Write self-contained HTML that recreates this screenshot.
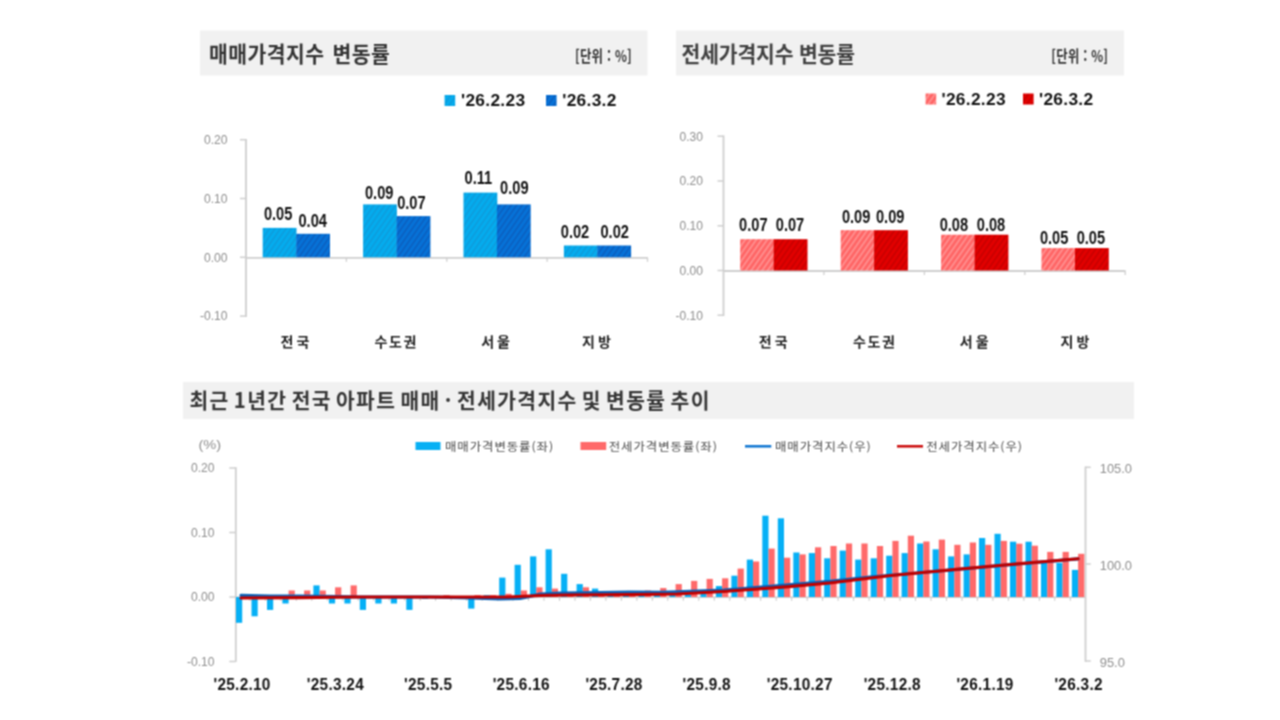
<!DOCTYPE html>
<html lang="ko"><head><meta charset="utf-8"><title>주간 아파트 가격 동향</title>
<style>html,body{margin:0;padding:0;background:#fff;}body{width:1280px;height:720px;overflow:hidden;}svg{display:block;}</style>
</head><body>
<svg width="1280" height="720" viewBox="0 0 1280 720">
<defs>
<pattern id="hLB" width="4.5" height="4.5" patternUnits="userSpaceOnUse" patternTransform="rotate(-55)"><rect width="4.5" height="4.5" fill="#04acee"/><rect width="4.5" height="1.7" fill="#0c9ddc"/></pattern>
<pattern id="hDB" width="4.5" height="4.5" patternUnits="userSpaceOnUse" patternTransform="rotate(-55)"><rect width="4.5" height="4.5" fill="#0672d8"/><rect width="4.5" height="1.7" fill="#0a60c0"/></pattern>
<pattern id="hLR" width="4.5" height="4.5" patternUnits="userSpaceOnUse" patternTransform="rotate(-55)"><rect width="4.5" height="4.5" fill="#ff6464"/><rect width="4.5" height="1.9" fill="#ff8e8e"/></pattern>
<pattern id="hDR" width="4.5" height="4.5" patternUnits="userSpaceOnUse" patternTransform="rotate(-55)"><rect width="4.5" height="4.5" fill="#e20000"/><rect width="4.5" height="1.7" fill="#c80000"/></pattern>
<filter id="soft" x="0" y="0" width="1280" height="720" filterUnits="userSpaceOnUse" color-interpolation-filters="sRGB"><feConvolveMatrix order="3" kernelMatrix="1 2 1 2 4 2 1 2 1" divisor="16" edgeMode="duplicate" preserveAlpha="false"/></filter>
</defs>
<rect width="1280" height="720" fill="#ffffff"/>
<g filter="url(#soft)">
<rect x="200" y="30.5" width="447.5" height="45" fill="#f1f1f1"/>
<rect x="676" y="30.5" width="448" height="45" fill="#f1f1f1"/>
<rect x="183" y="382" width="951" height="37" fill="#f1f1f1"/>
<text transform="translate(209.00 61.60) scale(0.95 1)" font-size="21.5" fill="#333" font-weight="bold" text-anchor="start" font-family='"Noto Sans CJK KR", "Liberation Sans", sans-serif' word-spacing="2" letter-spacing="0.5">매매가격지수 변동률</text>
<text transform="translate(681.50 61.60) scale(0.95 1)" font-size="21.5" fill="#404040" font-weight="bold" text-anchor="start" font-family='"Noto Sans CJK KR", "Liberation Sans", sans-serif' word-spacing="0" letter-spacing="-0.15">전세가격지수 변동률</text>
<text transform="translate(189.50 407.80) scale(0.97 1)" font-size="21" fill="#363636" font-weight="bold" text-anchor="start" font-family='"Noto Sans CJK KR", "Liberation Sans", sans-serif' word-spacing="-3.0" letter-spacing="1.42">최근 1년간 전국 아파트 매매 · 전세가격지수 및 변동률 추이</text>
<text transform="translate(632.00 62.20) scale(0.8 1)" font-size="15.5" fill="#333" font-weight="bold" text-anchor="end" font-family='"Noto Sans CJK KR", "Liberation Sans", sans-serif' letter-spacing="0.3">[단위 : %]</text>
<text transform="translate(1108.30 62.20) scale(0.8 1)" font-size="15.5" fill="#333" font-weight="bold" text-anchor="end" font-family='"Noto Sans CJK KR", "Liberation Sans", sans-serif' letter-spacing="0.3">[단위 : %]</text>
<line x1="246" y1="138.9" x2="246" y2="316.9" stroke="#cfcfcf" stroke-width="1.8"/>
<line x1="240" y1="316.1" x2="246" y2="316.1" stroke="#cfcfcf" stroke-width="1.5"/>
<text transform="translate(227.50 320.40) scale(0.93 1)" font-size="13" fill="#8e8e8e" font-weight="normal" text-anchor="end" font-family='"Liberation Sans", "Noto Sans CJK KR", sans-serif'>-0.10</text>
<line x1="240" y1="257.3" x2="246" y2="257.3" stroke="#cfcfcf" stroke-width="1.5"/>
<text transform="translate(227.50 261.60) scale(0.93 1)" font-size="13" fill="#8e8e8e" font-weight="normal" text-anchor="end" font-family='"Liberation Sans", "Noto Sans CJK KR", sans-serif'>0.00</text>
<line x1="240" y1="198.5" x2="246" y2="198.5" stroke="#cfcfcf" stroke-width="1.5"/>
<text transform="translate(227.50 202.80) scale(0.93 1)" font-size="13" fill="#8e8e8e" font-weight="normal" text-anchor="end" font-family='"Liberation Sans", "Noto Sans CJK KR", sans-serif'>0.10</text>
<line x1="240" y1="139.7" x2="246" y2="139.7" stroke="#cfcfcf" stroke-width="1.5"/>
<text transform="translate(227.50 144.00) scale(0.93 1)" font-size="13" fill="#8e8e8e" font-weight="normal" text-anchor="end" font-family='"Liberation Sans", "Noto Sans CJK KR", sans-serif'>0.20</text>
<line x1="246" y1="257.8" x2="647.5" y2="257.8" stroke="#cfcfcf" stroke-width="1.8"/>
<line x1="346.4" y1="257.3" x2="346.4" y2="261.8" stroke="#cfcfcf" stroke-width="1.3"/>
<line x1="446.8" y1="257.3" x2="446.8" y2="261.8" stroke="#cfcfcf" stroke-width="1.3"/>
<line x1="547.1" y1="257.3" x2="547.1" y2="261.8" stroke="#cfcfcf" stroke-width="1.3"/>
<line x1="647.5" y1="257.3" x2="647.5" y2="261.8" stroke="#cfcfcf" stroke-width="1.3"/>
<rect x="262.7" y="227.9" width="33.8" height="29.4" fill="url(#hLB)"/>
<text transform="translate(278.10 220.20) scale(0.77 1)" font-size="19" fill="#111" font-weight="bold" text-anchor="middle" font-family='"Liberation Sans", "Noto Sans CJK KR", sans-serif'>0.05</text>
<rect x="296.2" y="233.8" width="33.8" height="23.5" fill="url(#hDB)"/>
<text transform="translate(312.70 226.70) scale(0.77 1)" font-size="19" fill="#111" font-weight="bold" text-anchor="middle" font-family='"Liberation Sans", "Noto Sans CJK KR", sans-serif'>0.04</text>
<text x="296.40" y="347.00" font-size="14" fill="#222" font-weight="bold" text-anchor="middle" font-family='"Noto Sans CJK KR", "Liberation Sans", sans-serif' letter-spacing="3">전국</text>
<rect x="363.1" y="204.4" width="33.8" height="52.9" fill="url(#hLB)"/>
<text transform="translate(379.20 198.95) scale(0.77 1)" font-size="19" fill="#111" font-weight="bold" text-anchor="middle" font-family='"Liberation Sans", "Noto Sans CJK KR", sans-serif'>0.09</text>
<rect x="396.6" y="216.1" width="33.8" height="41.2" fill="url(#hDB)"/>
<text transform="translate(411.40 208.90) scale(0.77 1)" font-size="19" fill="#111" font-weight="bold" text-anchor="middle" font-family='"Liberation Sans", "Noto Sans CJK KR", sans-serif'>0.07</text>
<text x="396.30" y="347.00" font-size="14" fill="#222" font-weight="bold" text-anchor="middle" font-family='"Noto Sans CJK KR", "Liberation Sans", sans-serif' letter-spacing="1.6">수도권</text>
<rect x="463.5" y="192.6" width="33.8" height="64.7" fill="url(#hLB)"/>
<text transform="translate(478.40 183.60) scale(0.77 1)" font-size="19" fill="#111" font-weight="bold" text-anchor="middle" font-family='"Liberation Sans", "Noto Sans CJK KR", sans-serif'>0.11</text>
<rect x="496.9" y="204.4" width="33.8" height="52.9" fill="url(#hDB)"/>
<text transform="translate(514.30 194.45) scale(0.77 1)" font-size="19" fill="#111" font-weight="bold" text-anchor="middle" font-family='"Liberation Sans", "Noto Sans CJK KR", sans-serif'>0.09</text>
<text x="497.10" y="347.00" font-size="14" fill="#222" font-weight="bold" text-anchor="middle" font-family='"Noto Sans CJK KR", "Liberation Sans", sans-serif' letter-spacing="3">서울</text>
<rect x="563.9" y="245.5" width="33.8" height="11.8" fill="url(#hLB)"/>
<text transform="translate(575.00 237.60) scale(0.77 1)" font-size="19" fill="#111" font-weight="bold" text-anchor="middle" font-family='"Liberation Sans", "Noto Sans CJK KR", sans-serif'>0.02</text>
<rect x="597.3" y="245.5" width="33.8" height="11.8" fill="url(#hDB)"/>
<text transform="translate(614.70 237.60) scale(0.77 1)" font-size="19" fill="#111" font-weight="bold" text-anchor="middle" font-family='"Liberation Sans", "Noto Sans CJK KR", sans-serif'>0.02</text>
<text x="597.90" y="347.00" font-size="14" fill="#222" font-weight="bold" text-anchor="middle" font-family='"Noto Sans CJK KR", "Liberation Sans", sans-serif' letter-spacing="3">지방</text>
<line x1="723.5" y1="135.4" x2="723.5" y2="316.1" stroke="#cfcfcf" stroke-width="1.8"/>
<line x1="717.5" y1="315.2" x2="723.5" y2="315.2" stroke="#cfcfcf" stroke-width="1.5"/>
<text transform="translate(703.00 319.55) scale(0.93 1)" font-size="13" fill="#8e8e8e" font-weight="normal" text-anchor="end" font-family='"Liberation Sans", "Noto Sans CJK KR", sans-serif'>-0.10</text>
<line x1="717.5" y1="270.5" x2="723.5" y2="270.5" stroke="#cfcfcf" stroke-width="1.5"/>
<text transform="translate(703.00 274.80) scale(0.93 1)" font-size="13" fill="#8e8e8e" font-weight="normal" text-anchor="end" font-family='"Liberation Sans", "Noto Sans CJK KR", sans-serif'>0.00</text>
<line x1="717.5" y1="225.8" x2="723.5" y2="225.8" stroke="#cfcfcf" stroke-width="1.5"/>
<text transform="translate(703.00 230.05) scale(0.93 1)" font-size="13" fill="#8e8e8e" font-weight="normal" text-anchor="end" font-family='"Liberation Sans", "Noto Sans CJK KR", sans-serif'>0.10</text>
<line x1="717.5" y1="181.0" x2="723.5" y2="181.0" stroke="#cfcfcf" stroke-width="1.5"/>
<text transform="translate(703.00 185.30) scale(0.93 1)" font-size="13" fill="#8e8e8e" font-weight="normal" text-anchor="end" font-family='"Liberation Sans", "Noto Sans CJK KR", sans-serif'>0.20</text>
<line x1="717.5" y1="136.2" x2="723.5" y2="136.2" stroke="#cfcfcf" stroke-width="1.5"/>
<text transform="translate(703.00 140.55) scale(0.93 1)" font-size="13" fill="#8e8e8e" font-weight="normal" text-anchor="end" font-family='"Liberation Sans", "Noto Sans CJK KR", sans-serif'>0.30</text>
<line x1="723.5" y1="271.0" x2="1125.2" y2="271.0" stroke="#cfcfcf" stroke-width="1.8"/>
<line x1="823.9" y1="270.5" x2="823.9" y2="275.0" stroke="#cfcfcf" stroke-width="1.3"/>
<line x1="924.4" y1="270.5" x2="924.4" y2="275.0" stroke="#cfcfcf" stroke-width="1.3"/>
<line x1="1024.8" y1="270.5" x2="1024.8" y2="275.0" stroke="#cfcfcf" stroke-width="1.3"/>
<line x1="1125.2" y1="270.5" x2="1125.2" y2="275.0" stroke="#cfcfcf" stroke-width="1.3"/>
<rect x="740.2" y="239.2" width="33.8" height="31.3" fill="url(#hLR)"/>
<text transform="translate(753.30 230.90) scale(0.77 1)" font-size="19" fill="#111" font-weight="bold" text-anchor="middle" font-family='"Liberation Sans", "Noto Sans CJK KR", sans-serif'>0.07</text>
<rect x="773.7" y="239.2" width="33.8" height="31.3" fill="url(#hDR)"/>
<text transform="translate(790.00 230.90) scale(0.77 1)" font-size="19" fill="#111" font-weight="bold" text-anchor="middle" font-family='"Liberation Sans", "Noto Sans CJK KR", sans-serif'>0.07</text>
<text x="774.70" y="347.00" font-size="14" fill="#222" font-weight="bold" text-anchor="middle" font-family='"Noto Sans CJK KR", "Liberation Sans", sans-serif' letter-spacing="3">전국</text>
<rect x="840.7" y="230.2" width="33.8" height="40.3" fill="url(#hLR)"/>
<text transform="translate(856.10 223.00) scale(0.77 1)" font-size="19" fill="#111" font-weight="bold" text-anchor="middle" font-family='"Liberation Sans", "Noto Sans CJK KR", sans-serif'>0.09</text>
<rect x="874.1" y="230.2" width="33.8" height="40.3" fill="url(#hDR)"/>
<text transform="translate(890.20 223.00) scale(0.77 1)" font-size="19" fill="#111" font-weight="bold" text-anchor="middle" font-family='"Liberation Sans", "Noto Sans CJK KR", sans-serif'>0.09</text>
<text x="874.80" y="347.00" font-size="14" fill="#222" font-weight="bold" text-anchor="middle" font-family='"Noto Sans CJK KR", "Liberation Sans", sans-serif' letter-spacing="1.6">수도권</text>
<rect x="941.1" y="234.7" width="33.8" height="35.8" fill="url(#hLR)"/>
<text transform="translate(953.90 230.60) scale(0.77 1)" font-size="19" fill="#111" font-weight="bold" text-anchor="middle" font-family='"Liberation Sans", "Noto Sans CJK KR", sans-serif'>0.08</text>
<rect x="974.6" y="234.7" width="33.8" height="35.8" fill="url(#hDR)"/>
<text transform="translate(991.00 230.60) scale(0.77 1)" font-size="19" fill="#111" font-weight="bold" text-anchor="middle" font-family='"Liberation Sans", "Noto Sans CJK KR", sans-serif'>0.08</text>
<text x="975.70" y="347.00" font-size="14" fill="#222" font-weight="bold" text-anchor="middle" font-family='"Noto Sans CJK KR", "Liberation Sans", sans-serif' letter-spacing="3">서울</text>
<rect x="1041.5" y="248.1" width="33.8" height="22.4" fill="url(#hLR)"/>
<text transform="translate(1054.10 243.80) scale(0.77 1)" font-size="19" fill="#111" font-weight="bold" text-anchor="middle" font-family='"Liberation Sans", "Noto Sans CJK KR", sans-serif'>0.05</text>
<rect x="1075.0" y="248.1" width="33.8" height="22.4" fill="url(#hDR)"/>
<text transform="translate(1090.85 243.80) scale(0.77 1)" font-size="19" fill="#111" font-weight="bold" text-anchor="middle" font-family='"Liberation Sans", "Noto Sans CJK KR", sans-serif'>0.05</text>
<text x="1076.50" y="347.00" font-size="14" fill="#222" font-weight="bold" text-anchor="middle" font-family='"Noto Sans CJK KR", "Liberation Sans", sans-serif' letter-spacing="3">지방</text>
<rect x="444.6" y="95" width="10.6" height="11" fill="url(#hLB)"/>
<text transform="translate(461.00 105.50) scale(1.02 1)" font-size="17" fill="#111" font-weight="bold" text-anchor="start" font-family='"Liberation Sans", "Noto Sans CJK KR", sans-serif' letter-spacing="0.3">'26.2.23</text>
<rect x="546" y="95" width="10.6" height="11" fill="url(#hDB)"/>
<text transform="translate(562.20 105.50) scale(1.02 1)" font-size="17" fill="#111" font-weight="bold" text-anchor="start" font-family='"Liberation Sans", "Noto Sans CJK KR", sans-serif' letter-spacing="0.3">'26.3.2</text>
<rect x="925.6" y="93.5" width="10.6" height="11" fill="url(#hLR)"/>
<text transform="translate(941.50 104.50) scale(1.02 1)" font-size="17" fill="#111" font-weight="bold" text-anchor="start" font-family='"Liberation Sans", "Noto Sans CJK KR", sans-serif' letter-spacing="0.3">'26.2.23</text>
<rect x="1023" y="93.5" width="10.6" height="11" fill="url(#hDR)"/>
<text transform="translate(1039.00 104.50) scale(1.02 1)" font-size="17" fill="#111" font-weight="bold" text-anchor="start" font-family='"Liberation Sans", "Noto Sans CJK KR", sans-serif' letter-spacing="0.3">'26.3.2</text>
<line x1="235.8" y1="467.2" x2="235.8" y2="661.8" stroke="#cfcfcf" stroke-width="1.8"/>
<line x1="1085.5" y1="466.6" x2="1085.5" y2="661.8" stroke="#cfcfcf" stroke-width="1.8"/>
<line x1="229.3" y1="661.5" x2="235.8" y2="661.5" stroke="#cfcfcf" stroke-width="1.5"/>
<text transform="translate(214.50 665.80) scale(0.93 1)" font-size="13" fill="#8e8e8e" font-weight="normal" text-anchor="end" font-family='"Liberation Sans", "Noto Sans CJK KR", sans-serif'>-0.10</text>
<line x1="229.3" y1="597.0" x2="235.8" y2="597.0" stroke="#cfcfcf" stroke-width="1.5"/>
<text transform="translate(214.50 601.30) scale(0.93 1)" font-size="13" fill="#8e8e8e" font-weight="normal" text-anchor="end" font-family='"Liberation Sans", "Noto Sans CJK KR", sans-serif'>0.00</text>
<line x1="229.3" y1="532.5" x2="235.8" y2="532.5" stroke="#cfcfcf" stroke-width="1.5"/>
<text transform="translate(214.50 536.80) scale(0.93 1)" font-size="13" fill="#8e8e8e" font-weight="normal" text-anchor="end" font-family='"Liberation Sans", "Noto Sans CJK KR", sans-serif'>0.10</text>
<line x1="229.3" y1="468.0" x2="235.8" y2="468.0" stroke="#cfcfcf" stroke-width="1.5"/>
<text transform="translate(214.50 472.30) scale(0.93 1)" font-size="13" fill="#8e8e8e" font-weight="normal" text-anchor="end" font-family='"Liberation Sans", "Noto Sans CJK KR", sans-serif'>0.20</text>
<line x1="1085.0" y1="661.0" x2="1090.8" y2="661.0" stroke="#cfcfcf" stroke-width="1.5"/>
<text transform="translate(1099.80 666.50) scale(1.03 1)" font-size="12.5" fill="#8e8e8e" font-weight="normal" text-anchor="start" font-family='"Liberation Sans", "Noto Sans CJK KR", sans-serif'>95.0</text>
<line x1="1085.0" y1="564.0" x2="1090.8" y2="564.0" stroke="#cfcfcf" stroke-width="1.5"/>
<text transform="translate(1099.80 570.00) scale(1.03 1)" font-size="12.5" fill="#8e8e8e" font-weight="normal" text-anchor="start" font-family='"Liberation Sans", "Noto Sans CJK KR", sans-serif'>100.0</text>
<line x1="1085.0" y1="467.3" x2="1090.8" y2="467.3" stroke="#cfcfcf" stroke-width="1.5"/>
<text transform="translate(1099.80 472.50) scale(1.03 1)" font-size="12.5" fill="#8e8e8e" font-weight="normal" text-anchor="start" font-family='"Liberation Sans", "Noto Sans CJK KR", sans-serif'>105.0</text>
<text transform="translate(198.50 449.00) scale(1.17 1)" font-size="12.5" fill="#8e8e8e" font-weight="normal" text-anchor="start" font-family='"Liberation Sans", "Noto Sans CJK KR", sans-serif'>(%)</text>
<line x1="235.8" y1="597.3" x2="1085.0" y2="597.3" stroke="#cfcfcf" stroke-width="1.4"/>
<line x1="249.9" y1="597.0" x2="249.9" y2="600.8" stroke="#c6c6c6" stroke-width="1"/>
<line x1="265.4" y1="597.0" x2="265.4" y2="600.8" stroke="#c6c6c6" stroke-width="1"/>
<line x1="280.8" y1="597.0" x2="280.8" y2="600.8" stroke="#c6c6c6" stroke-width="1"/>
<line x1="296.3" y1="597.0" x2="296.3" y2="600.8" stroke="#c6c6c6" stroke-width="1"/>
<line x1="311.8" y1="597.0" x2="311.8" y2="600.8" stroke="#c6c6c6" stroke-width="1"/>
<line x1="327.3" y1="597.0" x2="327.3" y2="600.8" stroke="#c6c6c6" stroke-width="1"/>
<line x1="342.8" y1="597.0" x2="342.8" y2="600.8" stroke="#c6c6c6" stroke-width="1"/>
<line x1="358.2" y1="597.0" x2="358.2" y2="600.8" stroke="#c6c6c6" stroke-width="1"/>
<line x1="373.7" y1="597.0" x2="373.7" y2="600.8" stroke="#c6c6c6" stroke-width="1"/>
<line x1="389.2" y1="597.0" x2="389.2" y2="600.8" stroke="#c6c6c6" stroke-width="1"/>
<line x1="404.7" y1="597.0" x2="404.7" y2="600.8" stroke="#c6c6c6" stroke-width="1"/>
<line x1="420.2" y1="597.0" x2="420.2" y2="600.8" stroke="#c6c6c6" stroke-width="1"/>
<line x1="435.6" y1="597.0" x2="435.6" y2="600.8" stroke="#c6c6c6" stroke-width="1"/>
<line x1="451.1" y1="597.0" x2="451.1" y2="600.8" stroke="#c6c6c6" stroke-width="1"/>
<line x1="466.6" y1="597.0" x2="466.6" y2="600.8" stroke="#c6c6c6" stroke-width="1"/>
<line x1="482.1" y1="597.0" x2="482.1" y2="600.8" stroke="#c6c6c6" stroke-width="1"/>
<line x1="497.6" y1="597.0" x2="497.6" y2="600.8" stroke="#c6c6c6" stroke-width="1"/>
<line x1="513.0" y1="597.0" x2="513.0" y2="600.8" stroke="#c6c6c6" stroke-width="1"/>
<line x1="528.5" y1="597.0" x2="528.5" y2="600.8" stroke="#c6c6c6" stroke-width="1"/>
<line x1="544.0" y1="597.0" x2="544.0" y2="600.8" stroke="#c6c6c6" stroke-width="1"/>
<line x1="559.5" y1="597.0" x2="559.5" y2="600.8" stroke="#c6c6c6" stroke-width="1"/>
<line x1="575.0" y1="597.0" x2="575.0" y2="600.8" stroke="#c6c6c6" stroke-width="1"/>
<line x1="590.4" y1="597.0" x2="590.4" y2="600.8" stroke="#c6c6c6" stroke-width="1"/>
<line x1="605.9" y1="597.0" x2="605.9" y2="600.8" stroke="#c6c6c6" stroke-width="1"/>
<line x1="621.4" y1="597.0" x2="621.4" y2="600.8" stroke="#c6c6c6" stroke-width="1"/>
<line x1="636.9" y1="597.0" x2="636.9" y2="600.8" stroke="#c6c6c6" stroke-width="1"/>
<line x1="652.4" y1="597.0" x2="652.4" y2="600.8" stroke="#c6c6c6" stroke-width="1"/>
<line x1="667.8" y1="597.0" x2="667.8" y2="600.8" stroke="#c6c6c6" stroke-width="1"/>
<line x1="683.3" y1="597.0" x2="683.3" y2="600.8" stroke="#c6c6c6" stroke-width="1"/>
<line x1="698.8" y1="597.0" x2="698.8" y2="600.8" stroke="#c6c6c6" stroke-width="1"/>
<line x1="714.3" y1="597.0" x2="714.3" y2="600.8" stroke="#c6c6c6" stroke-width="1"/>
<line x1="729.8" y1="597.0" x2="729.8" y2="600.8" stroke="#c6c6c6" stroke-width="1"/>
<line x1="745.2" y1="597.0" x2="745.2" y2="600.8" stroke="#c6c6c6" stroke-width="1"/>
<line x1="760.7" y1="597.0" x2="760.7" y2="600.8" stroke="#c6c6c6" stroke-width="1"/>
<line x1="776.2" y1="597.0" x2="776.2" y2="600.8" stroke="#c6c6c6" stroke-width="1"/>
<line x1="791.7" y1="597.0" x2="791.7" y2="600.8" stroke="#c6c6c6" stroke-width="1"/>
<line x1="807.2" y1="597.0" x2="807.2" y2="600.8" stroke="#c6c6c6" stroke-width="1"/>
<line x1="822.6" y1="597.0" x2="822.6" y2="600.8" stroke="#c6c6c6" stroke-width="1"/>
<line x1="838.1" y1="597.0" x2="838.1" y2="600.8" stroke="#c6c6c6" stroke-width="1"/>
<line x1="853.6" y1="597.0" x2="853.6" y2="600.8" stroke="#c6c6c6" stroke-width="1"/>
<line x1="869.1" y1="597.0" x2="869.1" y2="600.8" stroke="#c6c6c6" stroke-width="1"/>
<line x1="884.6" y1="597.0" x2="884.6" y2="600.8" stroke="#c6c6c6" stroke-width="1"/>
<line x1="900.0" y1="597.0" x2="900.0" y2="600.8" stroke="#c6c6c6" stroke-width="1"/>
<line x1="915.5" y1="597.0" x2="915.5" y2="600.8" stroke="#c6c6c6" stroke-width="1"/>
<line x1="931.0" y1="597.0" x2="931.0" y2="600.8" stroke="#c6c6c6" stroke-width="1"/>
<line x1="946.5" y1="597.0" x2="946.5" y2="600.8" stroke="#c6c6c6" stroke-width="1"/>
<line x1="962.0" y1="597.0" x2="962.0" y2="600.8" stroke="#c6c6c6" stroke-width="1"/>
<line x1="977.4" y1="597.0" x2="977.4" y2="600.8" stroke="#c6c6c6" stroke-width="1"/>
<line x1="992.9" y1="597.0" x2="992.9" y2="600.8" stroke="#c6c6c6" stroke-width="1"/>
<line x1="1008.4" y1="597.0" x2="1008.4" y2="600.8" stroke="#c6c6c6" stroke-width="1"/>
<line x1="1023.9" y1="597.0" x2="1023.9" y2="600.8" stroke="#c6c6c6" stroke-width="1"/>
<line x1="1039.4" y1="597.0" x2="1039.4" y2="600.8" stroke="#c6c6c6" stroke-width="1"/>
<line x1="1054.8" y1="597.0" x2="1054.8" y2="600.8" stroke="#c6c6c6" stroke-width="1"/>
<line x1="1070.3" y1="597.0" x2="1070.3" y2="600.8" stroke="#c6c6c6" stroke-width="1"/>
<rect x="236.0" y="597.0" width="6.2" height="25.8" fill="#06b0f6"/>
<rect x="242.2" y="597.0" width="6.2" height="1.9" fill="#ff6a6a"/>
<rect x="251.5" y="597.0" width="6.2" height="19.3" fill="#06b0f6"/>
<rect x="257.7" y="597.0" width="6.2" height="1.3" fill="#ff6a6a"/>
<rect x="267.0" y="597.0" width="6.2" height="12.9" fill="#06b0f6"/>
<rect x="282.4" y="597.0" width="6.2" height="6.5" fill="#06b0f6"/>
<rect x="288.6" y="590.5" width="6.2" height="6.5" fill="#ff6a6a"/>
<rect x="304.1" y="590.5" width="6.2" height="6.5" fill="#ff6a6a"/>
<rect x="313.4" y="585.4" width="6.2" height="11.6" fill="#06b0f6"/>
<rect x="319.6" y="590.5" width="6.2" height="6.5" fill="#ff6a6a"/>
<rect x="328.9" y="597.0" width="6.2" height="6.5" fill="#06b0f6"/>
<rect x="335.1" y="587.3" width="6.2" height="9.7" fill="#ff6a6a"/>
<rect x="344.4" y="597.0" width="6.2" height="6.5" fill="#06b0f6"/>
<rect x="350.6" y="585.4" width="6.2" height="11.6" fill="#ff6a6a"/>
<rect x="359.8" y="597.0" width="6.2" height="12.9" fill="#06b0f6"/>
<rect x="375.3" y="597.0" width="6.2" height="6.5" fill="#06b0f6"/>
<rect x="390.8" y="597.0" width="6.2" height="6.5" fill="#06b0f6"/>
<rect x="406.3" y="597.0" width="6.2" height="12.9" fill="#06b0f6"/>
<rect x="421.8" y="597.0" width="6.2" height="1.9" fill="#06b0f6"/>
<rect x="443.4" y="595.1" width="6.2" height="1.9" fill="#ff6a6a"/>
<rect x="468.2" y="597.0" width="6.2" height="11.6" fill="#06b0f6"/>
<rect x="474.4" y="595.1" width="6.2" height="1.9" fill="#ff6a6a"/>
<rect x="483.7" y="595.1" width="6.2" height="1.9" fill="#06b0f6"/>
<rect x="489.9" y="595.1" width="6.2" height="1.9" fill="#ff6a6a"/>
<rect x="499.2" y="577.6" width="6.2" height="19.3" fill="#06b0f6"/>
<rect x="505.4" y="593.8" width="6.2" height="3.2" fill="#ff6a6a"/>
<rect x="514.6" y="564.8" width="6.2" height="32.2" fill="#06b0f6"/>
<rect x="520.8" y="590.5" width="6.2" height="6.5" fill="#ff6a6a"/>
<rect x="530.1" y="556.4" width="6.2" height="40.6" fill="#06b0f6"/>
<rect x="536.3" y="587.3" width="6.2" height="9.7" fill="#ff6a6a"/>
<rect x="545.6" y="549.3" width="6.2" height="47.7" fill="#06b0f6"/>
<rect x="551.8" y="588.6" width="6.2" height="8.4" fill="#ff6a6a"/>
<rect x="561.1" y="573.8" width="6.2" height="23.2" fill="#06b0f6"/>
<rect x="567.3" y="593.8" width="6.2" height="3.2" fill="#ff6a6a"/>
<rect x="576.6" y="584.1" width="6.2" height="12.9" fill="#06b0f6"/>
<rect x="582.8" y="587.3" width="6.2" height="9.7" fill="#ff6a6a"/>
<rect x="592.0" y="588.6" width="6.2" height="8.4" fill="#06b0f6"/>
<rect x="598.2" y="593.8" width="6.2" height="3.2" fill="#ff6a6a"/>
<rect x="607.5" y="591.8" width="6.2" height="5.2" fill="#06b0f6"/>
<rect x="613.7" y="591.8" width="6.2" height="5.2" fill="#ff6a6a"/>
<rect x="623.0" y="591.8" width="6.2" height="5.2" fill="#06b0f6"/>
<rect x="629.2" y="591.8" width="6.2" height="5.2" fill="#ff6a6a"/>
<rect x="638.5" y="591.8" width="6.2" height="5.2" fill="#06b0f6"/>
<rect x="644.7" y="590.5" width="6.2" height="6.5" fill="#ff6a6a"/>
<rect x="654.0" y="591.8" width="6.2" height="5.2" fill="#06b0f6"/>
<rect x="660.2" y="588.0" width="6.2" height="9.0" fill="#ff6a6a"/>
<rect x="669.4" y="593.8" width="6.2" height="3.2" fill="#06b0f6"/>
<rect x="675.6" y="584.1" width="6.2" height="12.9" fill="#ff6a6a"/>
<rect x="684.9" y="594.4" width="6.2" height="2.6" fill="#06b0f6"/>
<rect x="691.1" y="580.9" width="6.2" height="16.1" fill="#ff6a6a"/>
<rect x="700.4" y="593.8" width="6.2" height="3.2" fill="#06b0f6"/>
<rect x="706.6" y="578.9" width="6.2" height="18.1" fill="#ff6a6a"/>
<rect x="715.9" y="586.0" width="6.2" height="11.0" fill="#06b0f6"/>
<rect x="722.1" y="578.3" width="6.2" height="18.7" fill="#ff6a6a"/>
<rect x="731.4" y="575.7" width="6.2" height="21.3" fill="#06b0f6"/>
<rect x="737.6" y="568.6" width="6.2" height="28.4" fill="#ff6a6a"/>
<rect x="746.8" y="559.6" width="6.2" height="37.4" fill="#06b0f6"/>
<rect x="753.0" y="561.5" width="6.2" height="35.5" fill="#ff6a6a"/>
<rect x="762.3" y="515.7" width="6.2" height="81.3" fill="#06b0f6"/>
<rect x="768.5" y="548.6" width="6.2" height="48.4" fill="#ff6a6a"/>
<rect x="777.8" y="518.3" width="6.2" height="78.7" fill="#06b0f6"/>
<rect x="784.0" y="557.7" width="6.2" height="39.3" fill="#ff6a6a"/>
<rect x="793.3" y="552.5" width="6.2" height="44.5" fill="#06b0f6"/>
<rect x="799.5" y="554.4" width="6.2" height="42.6" fill="#ff6a6a"/>
<rect x="808.8" y="553.1" width="6.2" height="43.9" fill="#06b0f6"/>
<rect x="815.0" y="547.3" width="6.2" height="49.7" fill="#ff6a6a"/>
<rect x="824.2" y="558.3" width="6.2" height="38.7" fill="#06b0f6"/>
<rect x="830.4" y="546.0" width="6.2" height="51.0" fill="#ff6a6a"/>
<rect x="839.7" y="550.6" width="6.2" height="46.4" fill="#06b0f6"/>
<rect x="845.9" y="543.5" width="6.2" height="53.5" fill="#ff6a6a"/>
<rect x="855.2" y="559.6" width="6.2" height="37.4" fill="#06b0f6"/>
<rect x="861.4" y="543.5" width="6.2" height="53.5" fill="#ff6a6a"/>
<rect x="870.7" y="558.3" width="6.2" height="38.7" fill="#06b0f6"/>
<rect x="876.9" y="546.0" width="6.2" height="51.0" fill="#ff6a6a"/>
<rect x="886.2" y="555.7" width="6.2" height="41.3" fill="#06b0f6"/>
<rect x="892.4" y="540.9" width="6.2" height="56.1" fill="#ff6a6a"/>
<rect x="901.6" y="553.1" width="6.2" height="43.9" fill="#06b0f6"/>
<rect x="907.8" y="535.7" width="6.2" height="61.3" fill="#ff6a6a"/>
<rect x="917.1" y="543.5" width="6.2" height="53.5" fill="#06b0f6"/>
<rect x="923.3" y="541.5" width="6.2" height="55.5" fill="#ff6a6a"/>
<rect x="932.6" y="549.3" width="6.2" height="47.7" fill="#06b0f6"/>
<rect x="938.8" y="539.6" width="6.2" height="57.4" fill="#ff6a6a"/>
<rect x="948.1" y="556.4" width="6.2" height="40.6" fill="#06b0f6"/>
<rect x="954.3" y="544.8" width="6.2" height="52.2" fill="#ff6a6a"/>
<rect x="963.6" y="554.4" width="6.2" height="42.6" fill="#06b0f6"/>
<rect x="969.8" y="542.5" width="6.2" height="54.5" fill="#ff6a6a"/>
<rect x="979.0" y="538.0" width="6.2" height="59.0" fill="#06b0f6"/>
<rect x="985.2" y="544.8" width="6.2" height="52.2" fill="#ff6a6a"/>
<rect x="994.5" y="533.8" width="6.2" height="63.2" fill="#06b0f6"/>
<rect x="1000.7" y="540.9" width="6.2" height="56.1" fill="#ff6a6a"/>
<rect x="1010.0" y="541.7" width="6.2" height="55.3" fill="#06b0f6"/>
<rect x="1016.2" y="543.7" width="6.2" height="53.3" fill="#ff6a6a"/>
<rect x="1025.5" y="541.7" width="6.2" height="55.3" fill="#06b0f6"/>
<rect x="1031.7" y="545.7" width="6.2" height="51.3" fill="#ff6a6a"/>
<rect x="1041.0" y="562.8" width="6.2" height="34.2" fill="#06b0f6"/>
<rect x="1047.2" y="551.9" width="6.2" height="45.2" fill="#ff6a6a"/>
<rect x="1056.4" y="562.8" width="6.2" height="34.2" fill="#06b0f6"/>
<rect x="1062.6" y="551.9" width="6.2" height="45.2" fill="#ff6a6a"/>
<rect x="1071.9" y="569.9" width="6.2" height="27.1" fill="#06b0f6"/>
<rect x="1078.1" y="553.8" width="6.2" height="43.2" fill="#ff6a6a"/>
<polyline points="241,595.3 270,596 300,596.2 340,596.6 360,597 430,597 470,597.8 500,598.8 520,598.5 530,596.5 540,594 560,593 600,592.5 630,592 661,592.3 677,591.9 724,590 755,587.7 786,585 830,581.4 870,577.1 911,573.5 952,569.8 1013,564.3 1078,558.8" fill="none" stroke="#0a62b8" stroke-width="3.2" stroke-linejoin="round" stroke-linecap="round"/>
<polyline points="241,598 300,597.6 355,597 430,597 508,597 540,595.5 570,595 630,594.6 677,594 724,591.5 755,589.2 786,586.9 830,583 891,575.5 952,569.8 1013,564.3 1078,558.8" fill="none" stroke="#c00000" stroke-width="3.1" stroke-linejoin="round" stroke-linecap="round"/>
<text transform="translate(242.10 689.50) scale(0.96 1)" font-size="16" fill="#111" font-weight="bold" text-anchor="middle" font-family='"Liberation Sans", "Noto Sans CJK KR", sans-serif' letter-spacing="0.3">'25.2.10</text>
<text transform="translate(335.40 689.50) scale(0.96 1)" font-size="16" fill="#111" font-weight="bold" text-anchor="middle" font-family='"Liberation Sans", "Noto Sans CJK KR", sans-serif' letter-spacing="0.3">'25.3.24</text>
<text transform="translate(428.25 689.50) scale(0.96 1)" font-size="16" fill="#111" font-weight="bold" text-anchor="middle" font-family='"Liberation Sans", "Noto Sans CJK KR", sans-serif' letter-spacing="0.3">'25.5.5</text>
<text transform="translate(521.25 689.50) scale(0.96 1)" font-size="16" fill="#111" font-weight="bold" text-anchor="middle" font-family='"Liberation Sans", "Noto Sans CJK KR", sans-serif' letter-spacing="0.3">'25.6.16</text>
<text transform="translate(614.00 689.50) scale(0.96 1)" font-size="16" fill="#111" font-weight="bold" text-anchor="middle" font-family='"Liberation Sans", "Noto Sans CJK KR", sans-serif' letter-spacing="0.3">'25.7.28</text>
<text transform="translate(706.75 689.50) scale(0.96 1)" font-size="16" fill="#111" font-weight="bold" text-anchor="middle" font-family='"Liberation Sans", "Noto Sans CJK KR", sans-serif' letter-spacing="0.3">'25.9.8</text>
<text transform="translate(799.75 689.50) scale(0.96 1)" font-size="16" fill="#111" font-weight="bold" text-anchor="middle" font-family='"Liberation Sans", "Noto Sans CJK KR", sans-serif' letter-spacing="0.3">'25.10.27</text>
<text transform="translate(892.25 689.50) scale(0.96 1)" font-size="16" fill="#111" font-weight="bold" text-anchor="middle" font-family='"Liberation Sans", "Noto Sans CJK KR", sans-serif' letter-spacing="0.3">'25.12.8</text>
<text transform="translate(985.00 689.50) scale(0.96 1)" font-size="16" fill="#111" font-weight="bold" text-anchor="middle" font-family='"Liberation Sans", "Noto Sans CJK KR", sans-serif' letter-spacing="0.3">'26.1.19</text>
<text transform="translate(1078.60 689.50) scale(0.96 1)" font-size="16" fill="#111" font-weight="bold" text-anchor="middle" font-family='"Liberation Sans", "Noto Sans CJK KR", sans-serif' letter-spacing="0.3">'26.3.2</text>
<rect x="415.5" y="442" width="25" height="8" fill="#08b0f4"/>
<text transform="translate(445.00 450.60) scale(1.1 1)" font-size="11.3" fill="#4a4a4a" font-weight="normal" text-anchor="start" font-family='"Noto Sans CJK KR", "Liberation Sans", sans-serif' letter-spacing="0.85">매매가격변동률(좌)</text>
<rect x="580.5" y="442" width="25.7" height="8" fill="#ff6a6a"/>
<text transform="translate(608.75 450.60) scale(1.1 1)" font-size="11.3" fill="#4a4a4a" font-weight="normal" text-anchor="start" font-family='"Noto Sans CJK KR", "Liberation Sans", sans-serif' letter-spacing="0.85">전세가격변동률(좌)</text>
<line x1="745" y1="446.3" x2="771.3" y2="446.3" stroke="#1478d2" stroke-width="2.6"/>
<text transform="translate(775.00 450.60) scale(1.1 1)" font-size="11.3" fill="#4a4a4a" font-weight="normal" text-anchor="start" font-family='"Noto Sans CJK KR", "Liberation Sans", sans-serif' letter-spacing="0.85">매매가격지수(우)</text>
<line x1="897" y1="446.3" x2="923" y2="446.3" stroke="#cc1010" stroke-width="2.6"/>
<text transform="translate(926.25 450.60) scale(1.1 1)" font-size="11.3" fill="#4a4a4a" font-weight="normal" text-anchor="start" font-family='"Noto Sans CJK KR", "Liberation Sans", sans-serif' letter-spacing="0.85">전세가격지수(우)</text>
</g>
</svg>
</body></html>
